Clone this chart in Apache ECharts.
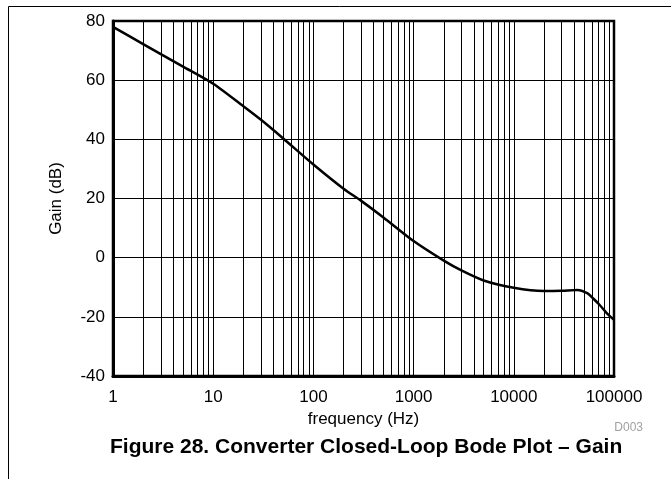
<!DOCTYPE html>
<html>
<head>
<meta charset="utf-8">
<style>
  html, body { margin: 0; padding: 0; background: #fff; }
  #chart { width: 671px; height: 479px; }
</style>
<script src="https://cdn.jsdelivr.net/npm/echarts@6/dist/echarts.min.js"></script>
</head>
<body>
<div id="chart"></div>
<script>
// 读图得到的数据
var freq = [1, 2, 3, 5, 10, 20, 30, 50, 100, 200, 300, 500, 1000, 2000, 3000, 5000, 10000, 20000, 30000, 43000, 54000, 62000, 72000, 85000, 100000];
var gain = [78, 72.2, 68.8, 64.6, 58.8, 51.2, 46.6, 40.3, 31.5, 23.3, 19.2, 13.6, 5.6, -1, -4.3, -7.7, -10.2, -11.3, -11.2, -10.9, -12, -13.8, -16, -18.8, -21];
var yTicks = [-40, -20, 0, 20, 40, 60, 80];
var minorFreq = [];
[1, 10, 100, 1000, 10000].forEach(function (d) {
    for (var k = 2; k <= 9; k++) minorFreq.push(k * d);
});

var points = freq.map(function (f, i) { return [f, gain[i]]; });
var font = 'Liberation Sans, Arial, sans-serif';

var chart = echarts.init(document.getElementById('chart'));
var option = {
    animation: false,
    grid: {
        left: 113, right: 57, top: 21, bottom: 103,
        show: true, borderColor: '#000', borderWidth: 2.5
    },
    xAxis: {
        type: 'log', logBase: 10, min: 1, max: 100000,
        name: 'frequency (Hz)', nameLocation: 'middle', nameGap: 34,
        nameTextStyle: { color: '#000', fontSize: 17, fontFamily: font },
        axisLine: { onZero: false, lineStyle: { color: '#000', width: 3 } },
        axisTick: { show: false },
        axisLabel: {
            color: '#000', fontSize: 17, fontFamily: font, margin: 13,
            formatter: function (v) { return String(Math.round(v)); }
        },
        splitLine: { show: true, lineStyle: { color: '#000', width: 1 } }
    },
    yAxis: {
        type: 'value', min: yTicks[0], max: yTicks[yTicks.length - 1], interval: 20,
        name: 'Gain (dB)', nameLocation: 'middle', nameGap: 48,
        nameTextStyle: { color: '#000', fontSize: 17, fontFamily: font },
        axisLine: { lineStyle: { color: '#000', width: 3 } },
        axisTick: { show: false },
        axisLabel: { color: '#000', fontSize: 17, fontFamily: font, margin: 8 },
        splitLine: { show: true, lineStyle: { color: '#000', width: 1 } }
    },
    graphic: [
        { type: 'line', shape: { x1: 8.5, y1: 6.5, x2: 671, y2: 6.5 }, style: { stroke: '#000', lineWidth: 1 } },
        { type: 'line', shape: { x1: 8.5, y1: 6.5, x2: 8.5, y2: 479 }, style: { stroke: '#000', lineWidth: 1 } },
        { type: 'text', right: 28, top: 422, style: { text: 'D003', fill: '#a0a0a0', font: '12px ' + font } },
        { type: 'text', left: 110, top: 437, style: { text: 'Figure 28. Converter Closed-Loop Bode Plot – Gain', fill: '#000', font: 'bold 21px ' + font } }
    ],
    series: [
        {
            // 次刻度网格线
            type: 'line', data: [], silent: true,
            markLine: {
                silent: true, symbol: 'none', animation: false,
                label: { show: false },
                lineStyle: { color: '#000', width: 1, type: 'solid' },
                data: minorFreq.map(function (f) { return { xAxis: f }; })
            }
        },
        {
            type: 'line', data: points, smooth: 0.25, showSymbol: false,
            lineStyle: { color: '#000', width: 2.5 }
        }
    ]
};
chart.setOption(option);
</script>
</body>
</html>
